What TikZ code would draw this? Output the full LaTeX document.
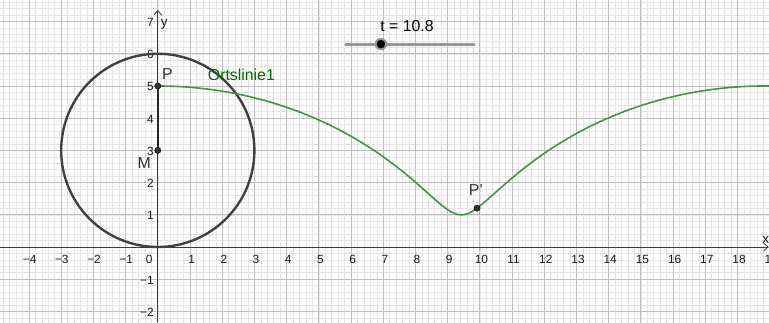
\documentclass[tikz,border=0pt]{standalone}
\usepackage{fontspec}
\setmainfont{Liberation Sans}
\usetikzlibrary{arrows.meta}
\definecolor{minorgrid}{RGB}{229,229,229}
\definecolor{majorgrid}{RGB}{192,192,192}
\definecolor{axiscol}{RGB}{60,60,60}
\definecolor{circlecol}{RGB}{64,64,64}
\definecolor{locuscol}{RGB}{70,145,70}
\definecolor{locustext}{RGB}{0,110,0}
\definecolor{slidercol}{RGB}{150,150,150}
\tikzset{
  ticklab/.style={font=\fontsize{10.5}{12}\selectfont, text=black!90, inner sep=0pt},
  biglab/.style={font=\fontsize{14}{16}\selectfont, inner sep=0pt},
  ptdot/.style={circle, fill=black!80, draw=black, inner sep=0pt, minimum size=5.5pt},
}
\begin{document}
\begin{tikzpicture}
\clip (-4.90,-2.33) rectangle (18.98,7.67);
\fill[white] (-4.90,-2.33) rectangle (18.98,7.67);
% grid
\draw[minorgrid, line width=0.45pt] (-5,-2.4) grid[step=0.2] (19.2,7.8);
\draw[majorgrid, line width=0.7pt] (-5,-3) grid[step=1] (20,8);
% axes
\coordinate (xs) at (-4.90,0);
\coordinate (xe) at (18.97,0);
\coordinate (ys) at (0,-2.33);
\coordinate (ye) at (0,7.36);
\draw[axiscol, line width=0.7pt, -{Straight Barb[length=4pt,width=7pt]}] (xs) -- (xe);
\draw[axiscol, line width=0.7pt, -{Straight Barb[length=4pt,width=7pt]}] (ys) -- (ye);
\node[ticklab, font=\fontsize{12}{14}\selectfont] (ylab) at (0.2,6.9) {y};
\node[ticklab, font=\fontsize{12}{14}\selectfont] (xlab) at (18.88,0.22) {x};
% x tick labels
\foreach \v in {4,3,2,1} {
  \node[ticklab] (xln\v) at (-\v+0.02,-0.38) {−\v};
}
\node[ticklab] (xl0) at (-0.27,-0.38) {0};
\foreach \v in {1,...,19} {
  \node[ticklab] (xlp\v) at (\v+0.05,-0.38) {\v};
}
% y tick labels
\foreach \v in {1,...,7} {
  \node[ticklab, anchor=east] (yl\v) at (-0.12,\v-0.03) {\v};
}
\foreach \v in {1,2} {
  \node[ticklab, anchor=east] (yln\v) at (-0.12,-\v-0.03) {−\v};
}
% circle
\coordinate (M) at (0,3);
\coordinate (P) at (0,5);
\draw[circlecol, line width=2.1pt] (M) circle[radius=3];
% locus
\draw[locuscol, line width=1.4pt, domain=0:19.3, samples=200, variable=\s]
  plot ({\s+2*sin(\s/3 r)}, {3+2*cos(\s/3 r)});
% segment MP
\draw[black!85, line width=2.1pt] (M) -- (P);
\node[ptdot] (Md) at (M) {};
\node[ptdot] (Pd) at (P) {};
\coordinate (Pp) at ({10.8+2*sin(3.6 r)}, {3+2*cos(3.6 r)});
\node[ptdot] (Ppd) at (Pp) {};
% labels
\node[biglab, text=black!80] (Plab) at (0.3,5.36) {P};
\node[biglab, text=black!80] (Mlab) at (-0.42,2.6) {M};
\node[biglab, text=black!80] (Pplab) at (9.88,1.77) {P'};
\node[biglab, text=locustext, anchor=west] (olab) at (1.55,5.36) {Ortslinie1};
% slider
\coordinate (sa) at (5.84,6.30);
\coordinate (sb) at (9.82,6.30);
\draw[slidercol, line width=2.6pt, line cap=round] (sa) -- (sb);
\node[circle, fill=black!40, inner sep=0pt, minimum size=11pt] (knobhalo) at (6.93,6.30) {};
\node[circle, fill=black, inner sep=0pt, minimum size=7.5pt] (knob) at (6.93,6.30) {};
\node[biglab] (tlab) at (7.74,6.86) {t = 10.8};
\end{tikzpicture}
\end{document}
